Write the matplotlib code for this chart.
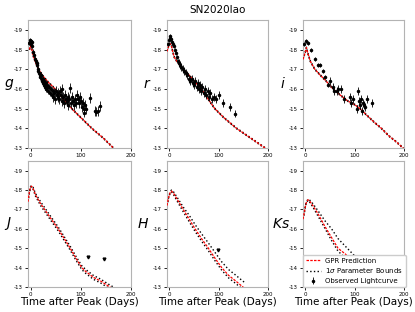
from matplotlib import pyplot as plt

plt.rcParams["axes.unicode_minus"] = False

# observed g-band points (day, mag, err)
g_day = [-3, -2, -1, 0, 1, 2, 3, 5, 7, 9, 10, 12, 13, 14, 15, 17, 18, 19, 20, 22, 23, 24, 25, 26, 27, 28, 29, 30,
         31, 32, 33, 35, 36, 38, 40, 42, 44, 45, 47, 48, 50, 52, 54, 55, 57, 58, 60, 62, 63, 65, 67, 68, 70, 72,
         74, 75, 77, 79, 80, 82, 84, 86, 88, 90, 92, 94, 96, 98, 100, 102, 104, 106, 107, 108, 110, 118, 128, 131,
         134, 138]
g_mag = [-18.35, -18.5, -18.4, -18.45, -18.3, -18.4, -18.2, -17.9, -17.7, -17.5, -17.4, -17.2, -17.3, -17.0,
         -16.9, -16.8, -16.7, -16.6, -16.7, -16.5, -16.4, -16.3, -16.5, -16.2, -16.4, -16.3, -16.1, -16.3, -16.0,
         -16.2, -16.1, -15.9, -16.1, -15.8, -16.0, -15.7, -15.9, -15.6, -15.8, -15.5, -15.9, -15.7, -15.6, -15.8,
         -15.5, -15.9, -15.7, -16.0, -15.4, -15.6, -15.3, -15.7, -15.5, -15.4, -15.6, -15.2, -15.5, -16.05, -15.3,
         -15.6, -15.4, -15.2, -15.5, -15.3, -15.7, -15.5, -15.3, -15.6, -15.4, -15.1, -15.3, -15.0, -14.8, -15.2,
         -15.0, -15.55, -14.9, -14.85, -14.9, -15.15]
g_err = [0.1] * 7 + [0.15] * 30 + [0.25] * 43

r_day = [-2, 0, 1, 2, 3, 5, 7, 9, 11, 13, 15, 17, 20, 22, 24, 27, 30, 33, 36, 40, 42, 45, 47, 50, 52, 55, 57,
         60, 62, 65, 67, 70, 72, 75, 78, 80, 83, 86, 90, 95, 101, 109, 123, 133]
r_mag = [-18.3, -18.5, -18.6, -18.7, -18.55, -18.4, -18.3, -18.2, -18.0, -17.8, -17.6, -17.4, -17.3, -17.2,
         -17.1, -17.0, -16.9, -16.8, -16.7, -16.5, -16.4, -16.5, -16.3, -16.2, -16.4, -16.1, -16.3, -16.0, -16.2,
         -15.9, -16.1, -15.8, -16.0, -15.7, -15.9, -15.6, -15.8, -15.5, -15.6, -15.5, -15.68, -15.3, -15.07, -14.75]
r_err = [0.1] * 12 + [0.2] * 32

i_day = [-2, 2, 6, 12, 20, 25, 30, 35, 40, 45, 50, 55, 57, 63, 67, 72, 78, 90, 93, 96, 105, 106, 108, 110,
         112, 114, 116, 118, 120, 125, 135]
i_mag = [-18.3, -18.45, -18.35, -18.0, -17.5, -17.2, -17.2, -16.9, -16.6, -16.2, -16.4, -16.1, -15.9, -15.9,
         -16.0, -16.0, -15.5, -15.6, -15.3, -15.5, -15.0, -15.9, -15.4, -15.2, -15.5, -14.9, -15.3, -15.2, -15.1,
         -15.5, -15.3]
i_err = [0.1] * 10 + [0.2] * 21

# upper limits in the NIR bands
J_lim_day = [115, 146]
J_lim_mag = [-14.56, -14.46]
H_lim_day = [98]
H_lim_mag = [-14.9]

# model curves: GPR prediction and 1 sigma bounds
g_mday = [-2, 0, 2, 5, 10, 16, 25, 35, 49, 65, 82, 100, 122, 145, 165, 172]
g_pred = [-18.0, -18.2, -18.1, -17.7, -17.35, -17.0, -16.65, -16.35, -16.0, -15.5, -15.0, -14.55, -14.0, -13.5,
          -13.0, -12.85]
g_lo = [-17.98, -18.18, -18.08, -17.68, -17.33, -16.98, -16.63, -16.33, -15.98, -15.48, -14.98, -14.53, -13.98,
        -13.48, -12.98, -12.83]
g_hi = [-18.02, -18.22, -18.12, -17.72, -17.37, -17.02, -16.67, -16.37, -16.02, -15.52, -15.02, -14.57, -14.02,
        -13.52, -13.02, -12.87]

r_mday = [-5, -2, 1, 4, 7, 10, 15, 20, 28, 40, 52, 65, 78, 92, 110, 136, 165, 194, 200]
r_pred = [-17.9, -18.15, -18.3, -18.2, -17.85, -17.6, -17.4, -17.25, -17.0, -16.7, -16.35, -16.0, -15.5, -15.0,
          -14.55, -14.0, -13.5, -13.0, -12.9]
r_lo = [-17.88, -18.13, -18.28, -18.18, -17.83, -17.58, -17.38, -17.23, -16.98, -16.68, -16.33, -15.98, -15.48,
        -14.98, -14.53, -13.98, -13.48, -12.98, -12.88]
r_hi = [-17.92, -18.17, -18.32, -18.22, -17.87, -17.62, -17.42, -17.27, -17.02, -16.72, -16.37, -16.02, -15.52,
        -15.02, -14.57, -14.02, -13.52, -13.02, -12.92]

i_mday = [-5, 0, 2, 5, 10, 19, 30, 40, 56, 70, 85, 100, 111, 125, 140, 154, 170, 185, 198, 200]
i_pred = [-17.5, -17.9, -18.1, -17.8, -17.4, -17.0, -16.7, -16.45, -16.0, -15.7, -15.4, -15.2, -15.0, -14.65,
          -14.3, -14.0, -13.6, -13.3, -13.0, -12.95]
i_lo = [-17.48, -17.88, -18.08, -17.78, -17.38, -16.98, -16.68, -16.43, -15.98, -15.68, -15.38, -15.18, -14.98,
        -14.63, -14.28, -13.98, -13.58, -13.28, -12.98, -12.93]
i_hi = [-17.52, -17.92, -18.12, -17.82, -17.42, -17.02, -16.72, -16.47, -16.02, -15.72, -15.42, -15.22, -15.02,
        -14.67, -14.32, -14.02, -13.62, -13.32, -13.02, -12.97]

J_mday = [-5, -3, 0, 2, 5, 10, 20, 28, 40, 55, 67, 79, 90, 102, 110, 125, 140, 158, 165]
J_pred = [-17.4, -17.8, -18.15, -18.2, -18.1, -17.75, -17.3, -17.0, -16.55, -16.0, -15.5, -15.0, -14.5, -14.0,
          -13.8, -13.5, -13.3, -13.0, -12.9]
J_lo = [-17.38, -17.77, -18.12, -18.17, -18.05, -17.68, -17.2, -16.9, -16.45, -15.9, -15.4, -14.9, -14.4, -13.9,
        -13.7, -13.4, -13.2, -12.9, -12.8]
J_hi = [-17.42, -17.83, -18.18, -18.23, -18.15, -17.82, -17.4, -17.1, -16.65, -16.1, -15.6, -15.1, -14.6, -14.1,
        -13.9, -13.6, -13.4, -13.1, -13.0]

H_mday = [-5, -2, 1, 4, 8, 15, 28, 40, 52, 65, 79, 92, 106, 120, 135, 149, 155]
H_pred = [-17.2, -17.6, -17.85, -17.95, -17.85, -17.55, -17.0, -16.5, -16.0, -15.5, -15.0, -14.5, -14.0, -13.6,
          -13.3, -13.0, -12.9]
H_lo = [-17.18, -17.58, -17.82, -17.9, -17.78, -17.45, -16.88, -16.37, -15.87, -15.37, -14.87, -14.37, -13.87,
        -13.47, -13.17, -12.87, -12.77]
H_hi = [-17.22, -17.62, -17.88, -18.0, -17.92, -17.65, -17.12, -16.7, -16.22, -15.75, -15.27, -14.8, -14.3, -13.9,
        -13.6, -13.3, -13.2]

Ks_mday = [-5, -2, 1, 5, 8, 15, 25, 40, 53, 66, 81, 100, 120, 141, 150]
Ks_pred = [-16.5, -16.9, -17.3, -17.5, -17.45, -17.2, -16.8, -16.1, -15.55, -15.0, -14.7, -14.2, -13.7, -13.15,
           -12.9]
Ks_lo = [-16.48, -16.88, -17.28, -17.47, -17.4, -17.12, -16.68, -16.0, -15.4, -14.85, -14.5, -14.0, -13.5, -12.95,
         -12.7]
Ks_hi = [-16.52, -16.92, -17.32, -17.53, -17.5, -17.3, -16.95, -16.4, -16.0, -15.5, -15.1, -14.6, -14.1, -13.5,
         -13.3]

bands = ["g", "r", "i", "J", "H", "Ks"]
model = {
    "g": (g_mday, g_pred, g_lo, g_hi),
    "r": (r_mday, r_pred, r_lo, r_hi),
    "i": (i_mday, i_pred, i_lo, i_hi),
    "J": (J_mday, J_pred, J_lo, J_hi),
    "H": (H_mday, H_pred, H_lo, H_hi),
    "Ks": (Ks_mday, Ks_pred, Ks_lo, Ks_hi),
}
obs = {"g": (g_day, g_mag, g_err), "r": (r_day, r_mag, r_err), "i": (i_day, i_mag, i_err)}
limits = {"J": (J_lim_day, J_lim_mag), "H": (H_lim_day, H_lim_mag)}

fig = plt.figure(figsize=(4.15, 3.12), dpi=100)
lefts = [28, 167, 303]
widths = [103, 101, 101]
rows = [(20, 148), (161, 287)]
label_x = [-0.18, -0.2, -0.2, -0.19, -0.24, -0.22]

for k, band in enumerate(bands):
    row, col = divmod(k, 3)
    top, bot = rows[row]
    ax = fig.add_axes([lefts[col] / 415, 1 - bot / 312, widths[col] / 415, (bot - top) / 312])
    d, p, lo, hi = model[band]
    ax.plot(d, p, "r--", lw=0.9, dashes=(2, 1), label="GPR Prediction", zorder=3)
    ax.plot(d, lo, "k:", lw=1.0, label=r"1$\sigma$ Parameter Bounds", zorder=2)
    ax.plot(d, hi, "k:", lw=1.0, zorder=2)
    if band in obs:
        x, y, e = obs[band]
        ax.errorbar(x, y, yerr=e, fmt="o", color="k", ms=1.5, elinewidth=0.6, capsize=0, zorder=4,
                    label="Observed Lightcurve")
    if band in limits:
        x, y = limits[band]
        ax.plot(x, y, "kv", ms=2)
    if band == "Ks":
        ax.errorbar([], [], yerr=[], fmt="o", color="k", ms=1.5, elinewidth=0.6, capsize=0,
                    label="Observed Lightcurve")
        ax.legend(loc="lower left", bbox_to_anchor=(0, 0), borderaxespad=0, fontsize=5, framealpha=1,
                  handlelength=2.2, borderpad=0.4, labelspacing=0.4, handletextpad=0.6)
    ax.set_xlim(-5, 200)
    ax.set_ylim(-13, -19.5)
    ax.set_xticks([0, 100, 200])
    ax.set_yticks([-19, -18, -17, -16, -15, -14, -13])
    ax.tick_params(labelsize=4, length=2, width=0.6, pad=1.5)
    for s in ax.spines.values():
        s.set_color("0.7")
    ax.set_ylabel("$" + band + "$", rotation=0, fontsize=10, va="center", ha="center")
    ax.yaxis.set_label_coords(label_x[k], 0.5)
    if band == "r":
        ax.set_title("SN2020lao", fontsize=7.5, pad=5)
    if row == 1:
        ax.set_xlabel("Time after Peak (Days)", fontsize=7.5, labelpad=0)

plt.savefig("out.png")
